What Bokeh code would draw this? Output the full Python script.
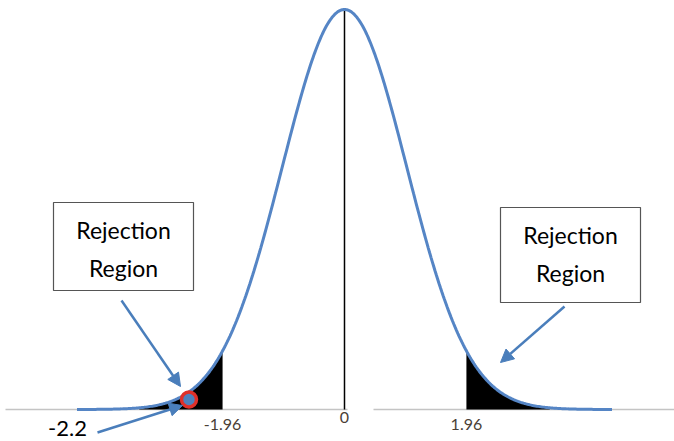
import numpy as np
from bokeh.plotting import figure
from bokeh.models import Arrow, NormalHead
from bokeh.core.properties import value
from bokeh.embed import file_html
from bokeh.resources import INLINE

# ---- data ----
mean = 0.0
sd = 1.0
critical_values = [-1.96, 1.96]
tick_labels = ["-1.96", "0", "1.96"]
tick_positions = [-1.96, 0.0, 1.96]
test_statistic_label = "-2.2"
marker_x = [-2.5]
marker_y = [0.010]
tail_extent = 3.3
curve_extent = 4.3
box_lines = ["Rejection", "Region"]

# ---- geometry of the page ----
W, H = 674, 441
x_start, x_end = -5.53, 5.305
y_start, y_end = -0.0319, 0.4079
FONT = value("Lato")

def X(px):
    return x_start + px / W * (x_end - x_start)

def Y(py):
    return y_end - py / H * (y_end - y_start)

p = figure(width=W, height=H, output_backend="svg", toolbar_location=None,
           x_range=(x_start, x_end), y_range=(y_start, y_end),
           min_border=0, outline_line_color=None)
p.axis.visible = False
p.grid.visible = False

z = np.linspace(-curve_extent, curve_extent, 400)
pdf = np.exp(-0.5 * ((z - mean) / sd) ** 2) / (sd * np.sqrt(2 * np.pi))

# baseline (axis) in two pieces
p.segment(x0=[X(5), X(373)], y0=[0, 0], x1=[X(347), X(680)], y1=[0, 0],
          line_color="#c4c4c4", line_width=1.5)

# shaded tails
zl = np.linspace(-tail_extent, critical_values[0], 100)
zr = np.linspace(critical_values[1], tail_extent, 100)
fl = np.exp(-0.5 * zl ** 2) / np.sqrt(2 * np.pi)
fr = np.exp(-0.5 * zr ** 2) / np.sqrt(2 * np.pi)
p.varea(x=zl, y1=np.zeros_like(zl), y2=fl, fill_color="black")
p.varea(x=zr, y1=np.zeros_like(zr), y2=fr, fill_color="black")

# centre line
peak = 1 / (sd * np.sqrt(2 * np.pi))
p.segment(x0=[mean], y0=[0], x1=[mean], y1=[peak], line_color="black", line_width=1.5)

# curve
p.line(z, pdf, line_color="#5585c5", line_width=3)

# tick labels
p.text(x=tick_positions, y=[Y(424), Y(417), Y(424)], text=tick_labels,
       text_align="center", text_baseline="middle", text_font=FONT,
       text_font_size="16px", text_color="#4a4036")

# test statistic marker
p.scatter(marker_x, marker_y, size=15, fill_color="#4f81bd", line_color="#e0302a", line_width=3.5)
p.text(x=[X(67)], y=[Y(428)], text=[test_statistic_label], text_align="center",
       text_baseline="middle", text_font=FONT, text_font_size="22px", text_color="black")

# boxes
boxes = [(53, 193, 202, 290), (500, 640, 207, 302)]
p.quad(left=[X(b[0]) for b in boxes], right=[X(b[1]) for b in boxes],
       top=[Y(b[2]) for b in boxes], bottom=[Y(b[3]) for b in boxes],
       fill_color="white", line_color="#555555", line_width=1.2)
for (l, r, t, b) in boxes:
    p.text(x=[X((l + r) / 2)] * 2, y=[Y(t + 27), Y(t + 65)], text=box_lines,
           text_align="center", text_baseline="middle", text_font=FONT,
           text_font_size="23px", text_color="black")

# arrows
blue = "#4a7ebb"
for (x0, y0, x1, y1) in [(121, 300, 180, 386), (564, 306, 500, 362), (97, 432, 182, 405)]:
    p.add_layout(Arrow(end=NormalHead(size=13, fill_color=blue, line_color=blue),
                       x_start=X(x0), y_start=Y(y0), x_end=X(x1), y_end=Y(y1),
                       line_color=blue, line_width=2.5))

open("out.html", "w").write(file_html(p, INLINE))
